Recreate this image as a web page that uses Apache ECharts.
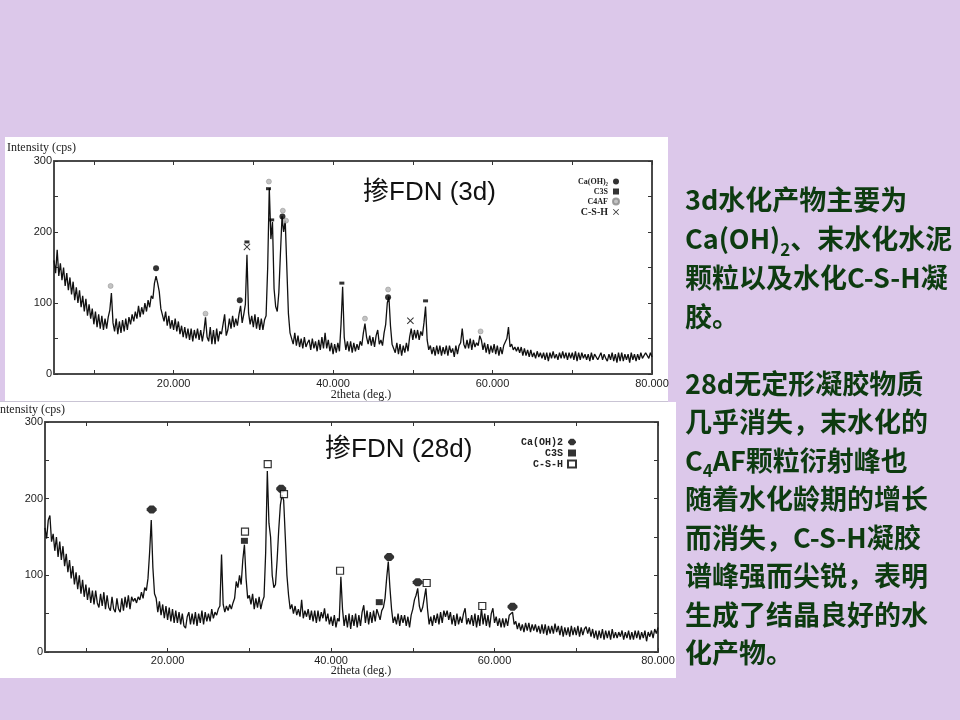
<!DOCTYPE html>
<html><head><meta charset="utf-8">
<script src="https://cdn.jsdelivr.net/npm/echarts@6/dist/echarts.min.js"></script>
<style>html,body{margin:0;padding:0;background:#dcc8ea;} #c{width:960px;height:720px;}</style>
</head><body><div id="c"></div>
<script>
// ---- sampling grid of 2theta (deg) ----
const thetaStart = 5, thetaStep = 0.2;

// ---- intensity (cps), every 0.2 deg from 5 to 80 ----
const intensity3d = [
160,142,175,138,156, 132,150,124,142,118, 136,112,130,104,122, 100,118,94,110,88,
106,82,98,78,92, 70,88,66,84,64, 82,62,78,64,80, 90,114,72,60,78,
56,74,58,76,60, 78,62,80,70,84, 74,88,78,96,80, 94,84,100,88,104,
94,110,106,128,138, 128,116,92,90,74, 88,68,82,64,76, 62,78,60,74,56,
68,52,66,50,64, 48,64,46,62,50, 64,48,62,46,60, 80,52,46,66,42,
62,42,64,46,60, 56,70,84,54,62, 78,64,82,66,78, 68,84,96,72,84,
98,168,86,70,82, 66,84,64,80,62, 78,62,76,82,150, 262,190,214,120,95,
88,115,170,222,200, 216,150,85,58,60, 42,58,40,54,38, 50,36,52,38,44,
48,34,50,36,46, 32,48,34,52,36, 58,36,48,32,44, 28,42,30,44,32,
70,123,52,34,46, 32,46,30,44,32, 42,34,46,40,58, 71,52,42,54,40,
52,38,54,62,42, 48,40,58,70,100, 109,68,42,44,30, 44,28,42,26,40,
30,44,32,52,64, 48,62,50,62,48, 60,54,72,95,48, 34,40,28,38,26,
40,28,40,26,38, 28,40,26,40,30, 36,24,40,28,40, 44,64,42,36,48,
36,50,34,48,38, 44,40,54,48,34, 44,30,42,28,40, 30,42,28,40,26,
38,28,40,42,50, 66,38,42,34,38, 32,38,30,38,26, 36,26,34,24,34,
24,30,22,32,24, 30,22,30,20,30, 18,30,22,32,22, 28,20,30,22,32,
22,30,20,30,22, 30,20,32,18,30, 20,30,22,28,20, 28,18,30,20,28,
30,20,18,30,20, 28,22,18,28,20, 30,18,28,16,30, 18,30,18,28,20,
28,16,30,20,28, 18,28,20,30,22, 20,30,32,22,30, 24
];
const intensity28d = [
162,148,172,178,144, 154,132,150,124,144, 120,138,112,128,104, 120,96,112,88,104,
82,100,76,94,72, 88,68,84,64,80, 62,80,64,58,76, 60,78,56,74,58,
54,72,56,52,70, 56,52,70,54,72, 58,74,56,72,66, 70,64,72,68,78,
70,84,80,96,130, 172,110,76,70,52, 66,48,62,44,60, 42,58,40,56,38,
54,38,52,36,50, 34,31,46,52,36, 50,36,52,34,50, 38,54,36,52,40,
50,40,56,44,52, 48,56,60,127,62, 52,60,54,62,56, 64,70,92,84,100,
88,120,140,96,70, 74,62,76,56,70, 58,72,56,66,72, 130,236,168,150,100,
84,88,120,160,192, 205,198,150,100,74, 56,62,50,60,48, 56,46,68,44,54,
46,56,42,54,40, 54,38,54,40,52, 44,57,40,50,36, 46,34,48,32,44,
40,98,56,34,48, 32,50,30,48,34, 50,32,48,34,52, 61,38,54,36,52,
38,54,40,56,57, 42,54,58,70,96, 118,84,56,38,46, 36,50,34,48,38,
48,34,46,32,48, 56,68,74,83,60, 52,58,70,83,56, 36,46,34,48,38,
50,36,52,38,54, 46,54,42,52,36, 48,34,50,36,46, 38,50,57,36,44,
36,48,34,50,32, 48,34,57,36,50, 34,48,32,50,57, 38,46,34,44,32,
44,32,44,34,48, 46,52,36,40,30, 38,28,36,26,38, 28,38,26,36,28,
36,26,34,24,36, 24,36,22,34,24, 34,24,37,26,34, 22,34,20,32,22,
32,20,34,22,32, 22,34,20,32,22, 30,33,24,32,20, 30,18,28,16,28,
18,30,16,28,18, 28,16,30,18,26, 18,26,20,28,16, 26,18,28,16,26,
16,28,18,28,16, 26,18,28,14,26, 20,28,18,30,24, 32
];

// ---- phase markers [2theta, marker height] ----
const caoh2_3d = [[17.8,149],[28.3,104],[33.65,222],[46.9,108]];
const c3s_3d   = [[29.2,186],[31.9,261],[32.3,217],[41.1,128],[51.6,103]];
const c4af_3d  = [[12.1,124],[24.0,85],[31.95,271],[33.7,230],[34.1,216],[44.0,78],[46.9,119],[58.5,60]];
const csh_3d   = [[29.2,179],[49.7,75]];
const caoh2_28d = [[18.05,186],[33.9,213],[47.1,124],[50.6,91],[62.2,59]];
const c3s_28d   = [[29.4,145],[45.9,65]];
const csh_28d   = [[29.47,157],[32.25,245],[34.24,206],[41.1,106],[51.7,90],[58.5,60]];

// ---- ticks ----
const xTickValues = [10,20,30,40,50,60,70,80];
const xLabelValues = [20,40,60,80];
const yLabelValues = [0,100,200,300];

function toPairs(arr){ return arr.map((v,i)=>[+(thetaStart+i*thetaStep).toFixed(2), v]); }

const axisLineStyle = {color:'#4a4a4a', width:2};
const tickStyle = {color:'#333', width:1};
const labelFont = {fontSize:11, color:'#222', fontFamily:'Liberation Sans'};

function xAxes(g, margin){
  return [
    {type:'value', gridIndex:g, position:'bottom', min:5, max:80,
     axisLine:{onZero:false, lineStyle:axisLineStyle},
     axisTick:{inside:true, length:4, customValues:xTickValues, lineStyle:tickStyle},
     axisLabel:Object.assign({customValues:xLabelValues, formatter:v=>v.toFixed(3), margin:margin}, labelFont),
     splitLine:{show:false}},
    {type:'value', gridIndex:g, position:'top', min:5, max:80,
     axisLine:{onZero:false, lineStyle:axisLineStyle},
     axisTick:{inside:true, length:4, customValues:xTickValues, lineStyle:tickStyle},
     axisLabel:{show:false}, splitLine:{show:false}}
  ];
}
function yAxes(g){
  return [
    {type:'value', gridIndex:g, position:'left', min:0, max:300, interval:50,
     axisLine:{show:true, onZero:false, lineStyle:axisLineStyle},
     axisTick:{show:true, inside:true, length:4, lineStyle:tickStyle},
     axisLabel:Object.assign({customValues:yLabelValues, margin:2}, labelFont),
     splitLine:{show:false}},
    {type:'value', gridIndex:g, position:'right', min:0, max:300, interval:50,
     axisLine:{show:true, onZero:false, lineStyle:axisLineStyle},
     axisTick:{show:true, inside:true, length:4, lineStyle:tickStyle},
     axisLabel:{show:false}, splitLine:{show:false}}
  ];
}

const crossPath = 'path://M0,1L1,0L5,4L9,0L10,1L6,5L10,9L9,10L5,6L1,10L0,9L4,5Z';
const blobPath = 'path://M3,0L7,0L10,3L10,5L7,8L3,8L0,5L0,3Z';

const greenText = '#0d3b10';
const cjk = "'Noto Sans CJK SC', sans-serif";
const tStyle = {fontSize:27, fontWeight:'bold', fontFamily:cjk, fill:greenText, color:greenText, lineHeight:39};
const sStyle = {fontSize:17, fontWeight:'bold', fontFamily:cjk, fill:greenText, color:greenText, lineHeight:39, verticalAlign:'bottom'};

const para1 = '{t|3d水化产物主要为}\n{t|Ca(OH)}{s|2}{t|、末水化水泥}\n{t|颗粒以及水化C-S-H凝}\n{t|胶。}';
const para2 = '{u|28d无定形凝胶物质}\n{u|几乎消失，末水化的}\n{u|C}{v|4}{u|AF颗粒衍射峰也}\n{u|随着水化龄期的增长}\n{u|而消失，C-S-H凝胶}\n{u|谱峰强而尖锐，表明}\n{u|生成了结晶良好的水}\n{u|化产物。}';

const chart = echarts.init(document.getElementById('c'), null, {renderer:'canvas'});
chart.setOption({
  backgroundColor:'#dcc8ea',
  animation:false,
  grid:[
    {left:54, top:161, width:598, height:213},
    {left:45, top:422, width:613, height:230}
  ],
  xAxis:[].concat(xAxes(0,4), xAxes(1,3)),
  yAxis:[].concat(yAxes(0), yAxes(1)),
  legend:[
    {data:['Ca(OH)₂|3d','C3S|3d','C4AF|3d',{name:'C-S-H|3d', textStyle:{fontSize:10}}],
     orient:'vertical', align:'right', right:340, top:177, padding:0, itemGap:1,
     itemWidth:6, itemHeight:6, selectedMode:false, formatter:n=>n.split('|')[0],
     textStyle:{fontSize:8, fontFamily:'Liberation Serif', fontWeight:'bold', color:'#222', lineHeight:9}},
    {data:['Ca(OH)2|28d','C3S|28d','C-S-H|28d'],
     orient:'vertical', align:'right', right:383, top:437, padding:0, itemGap:1,
     itemWidth:8, itemHeight:7, selectedMode:false, formatter:n=>n.split('|')[0],
     textStyle:{fontSize:10, fontFamily:'Liberation Mono', fontWeight:'bold', color:'#222', lineHeight:10}}
  ],
  series:[
    {type:'line', name:'3d', xAxisIndex:0, yAxisIndex:0, data:toPairs(intensity3d),
     showSymbol:false, lineStyle:{color:'#111', width:1.3}, z:2},
    {type:'scatter', name:'Ca(OH)₂|3d', xAxisIndex:0, yAxisIndex:0, data:caoh2_3d, symbol:'circle', symbolSize:6, itemStyle:{color:'#000'}, z:3},
    {type:'scatter', name:'C3S|3d', xAxisIndex:0, yAxisIndex:0, data:c3s_3d, symbol:'rect', symbolSize:[5,3], itemStyle:{color:'#000'}, z:3},
    {type:'scatter', name:'C4AF|3d', xAxisIndex:0, yAxisIndex:0, data:c4af_3d, symbol:'circle', symbolSize:5, itemStyle:{color:'#b4b4b4', borderColor:'#8a8a8a', borderWidth:0.6}, z:3},
    {type:'scatter', name:'C-S-H|3d', xAxisIndex:0, yAxisIndex:0, data:csh_3d, symbol:crossPath, symbolSize:7, itemStyle:{color:'#000'}, z:3},

    {type:'line', name:'28d', xAxisIndex:2, yAxisIndex:2, data:toPairs(intensity28d),
     showSymbol:false, lineStyle:{color:'#111', width:1.3}, z:2},
    {type:'scatter', name:'Ca(OH)2|28d', xAxisIndex:2, yAxisIndex:2, data:caoh2_28d, symbol:blobPath, symbolSize:[10,8], itemStyle:{color:'#000'}, z:3},
    {type:'scatter', name:'C3S|28d', xAxisIndex:2, yAxisIndex:2, data:c3s_28d, symbol:'rect', symbolSize:[7,6], itemStyle:{color:'#000'}, z:3},
    {type:'scatter', name:'C-S-H|28d', xAxisIndex:2, yAxisIndex:2, data:csh_28d, symbol:'rect', symbolSize:7, itemStyle:{color:'#fff', borderColor:'#000', borderWidth:1.2}, z:3}
  ],
  graphic:[
    {type:'rect', z:-100, shape:{x:5, y:137, width:663, height:264}, style:{fill:'#ffffff'}},
    {type:'rect', z:-100, shape:{x:0, y:402, width:676, height:276}, style:{fill:'#ffffff'}},
    {type:'rect', z:-99, shape:{x:0, y:401, width:668, height:1}, style:{fill:'#c9c4d4'}},
    {type:'text', z:50, x:7, y:148, style:{text:'Intensity (cps)', fontSize:12, fontFamily:'Liberation Serif', fill:'#222', verticalAlign:'middle'}},
    {type:'text', z:50, x:-4, y:410, style:{text:'Intensity (cps)', fontSize:12, fontFamily:'Liberation Serif', fill:'#222', verticalAlign:'middle'}},
    {type:'text', z:50, x:361, y:395, style:{text:'2theta (deg.)', fontSize:12, fontFamily:'Liberation Serif', fill:'#222', align:'center', verticalAlign:'middle'}},
    {type:'text', z:50, x:361, y:671, style:{text:'2theta (deg.)', fontSize:12, fontFamily:'Liberation Serif', fill:'#222', align:'center', verticalAlign:'middle'}},
    {type:'text', z:50, x:363, y:193, style:{text:'掺FDN (3d)', fontSize:26, fontFamily:"'Liberation Sans','Noto Sans CJK SC'", fill:'#111', verticalAlign:'middle'}},
    {type:'text', z:50, x:325, y:450, style:{text:'掺FDN (28d)', fontSize:26, fontFamily:"'Liberation Sans','Noto Sans CJK SC'", fill:'#111', verticalAlign:'middle'}},
    {type:'text', z:50, x:685, y:180, style:{text:para1, fontSize:27, fontWeight:'bold', fontFamily:cjk, fill:greenText, lineHeight:39,
      rich:{t:tStyle, s:sStyle}}},
    {type:'text', z:50, x:685, y:364, style:{text:para2, fontSize:27, fontWeight:'bold', fontFamily:cjk, fill:greenText, lineHeight:38.5,
      rich:{u:Object.assign({}, tStyle, {lineHeight:38.5}), v:Object.assign({}, sStyle, {lineHeight:38.5})}}}
  ]
});
</script>
</body></html>
